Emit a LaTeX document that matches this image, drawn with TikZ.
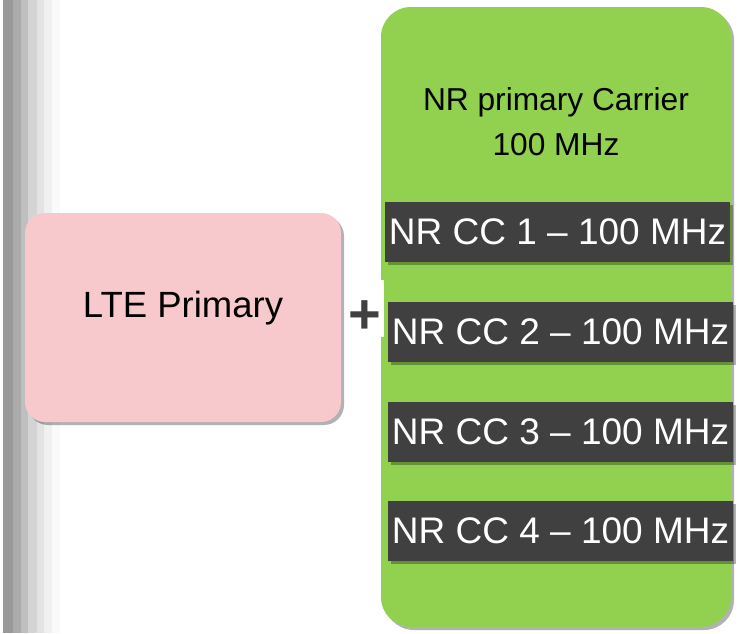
\documentclass[tikz,border=0pt]{standalone}
\usepackage{fontspec}
\setmainfont{Liberation Sans}
\usetikzlibrary{shadows}
\definecolor{pinkfill}{HTML}{F7C9CC}
\definecolor{greenfill}{HTML}{92D050}
\definecolor{darkfill}{HTML}{404040}
\begin{document}
\begin{tikzpicture}[x=1pt,y=-1pt,
  boxshadow/.style={drop shadow={shadow xshift=3pt,shadow yshift=-3pt,fill=black,opacity=0.3}},
  ccbox/.style={fill=darkfill,text=white,minimum width=345pt,minimum height=60pt,inner sep=0pt,
    font=\fontsize{37}{40}\selectfont,boxshadow},
]
\useasboundingbox (0,0) rectangle (740,633);
\fill[white] (0,0) rectangle (740,633);
% left stripes
\fill[black!40] (3,0) rectangle (13,633);
\fill[black!33] (13,0) rectangle (21,633);
\fill[black!25] (21,0) rectangle (28,633);
\fill[black!17] (28,0) rectangle (37,633);
\fill[black!11] (37,0) rectangle (44,633);
\fill[black!6] (44,0) rectangle (52,633);
\fill[black!2] (52,0) rectangle (60,633);
% LTE box
\node[fill=pinkfill,rounded corners=20pt,minimum width=316pt,minimum height=209pt,boxshadow] (lte) at (183,317.5) {};
\node[font=\fontsize{36.5}{40}\selectfont] (ltetext) at (183,308) {LTE Primary};
% NR green box
\node[fill=greenfill,rounded corners=30pt,minimum width=350pt,minimum height=620pt,boxshadow] (nr) at (556,317) {};
\node[align=center,font=\fontsize{31.7}{45}\selectfont] (nrtitle) at (556,122) {NR primary Carrier\\100 MHz};
% plus
\node[fill=white,minimum width=37pt,minimum height=57pt,inner sep=0pt] (plusbg) at (365.5,308.5) {};
\node[text=darkfill,font=\fontsize{56}{56}\selectfont\bfseries,inner sep=0pt] (plus) at (365,317) {+};
% CC boxes
\node[ccbox] (cc1) at (557.5,232) {NR CC 1 – 100 MHz};
\node[ccbox] (cc2) at (560.5,332) {NR CC 2 – 100 MHz};
\node[ccbox] (cc3) at (560.5,432) {NR CC 3 – 100 MHz};
\node[ccbox] (cc4) at (560.5,531) {NR CC 4 – 100 MHz};
\end{tikzpicture}
\end{document}
